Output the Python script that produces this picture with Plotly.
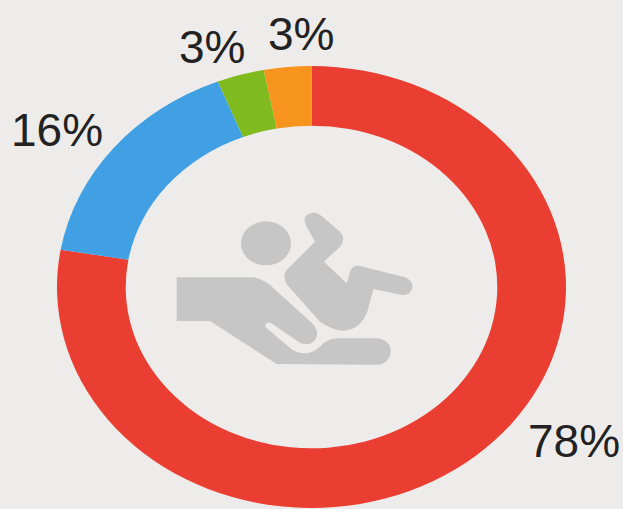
import plotly.graph_objects as go

labels = ["Red", "Blue", "Green", "Orange"]
values = [77.7, 16.3, 3, 3]
colors = ["#ea3e33", "#41a0e4", "#7fbb1e", "#f7941d"]
texts = ["78%", "16%", "3%", "3%"]
text_pos = [(574, 441), (57, 130), (212, 47), (301, 34)]

W, H = 623, 509
BG = "#eeecea"
ICON = "#c6c6c6"


def px(x, y):
    return f"{x / W:.5f} {1 - y / H:.5f}"


def zoom_pt(zx, zy):
    return px(160 + zx / 3, 190 + zy / 3)


def path(cmds):
    out = []
    for c in cmds:
        op, pts = c[0], c[1:]
        out.append(op + " ".join(zoom_pt(*p).replace(" ", ",") for p in pts))
    return " ".join(out) + " Z"


hand = path([
    ("M", (50, 262)), ("L", (280, 262)),
    ("Q", (305, 265), (330, 285)),
    ("L", (455, 398)),
    ("Q", (485, 430), (460, 455)),
    ("Q", (440, 470), (415, 455)),
    ("L", (332, 398)),
    ("Q", (318, 395), (315, 410)),
    ("L", (395, 478)),
    ("Q", (440, 505), (480, 470)),
    ("Q", (500, 447), (530, 445)),
    ("L", (650, 445)),
    ("Q", (692, 450), (692, 485)),
    ("Q", (688, 522), (650, 524)),
    ("L", (350, 522)),
    ("L", (150, 393)), ("L", (50, 393)),
])
baby = path([
    ("M", (380, 240)),
    ("L", (465, 155)),
    ("L", (440, 110)),
    ("Q", (425, 85), (445, 72)),
    ("Q", (465, 60), (485, 78)),
    ("L", (540, 125)),
    ("Q", (560, 145), (540, 170)),
    ("L", (492, 215)),
    ("L", (560, 280)),
    ("L", (570, 245)),
    ("Q", (578, 225), (600, 228)),
    ("L", (735, 262)),
    ("Q", (765, 275), (755, 300)),
    ("Q", (745, 320), (715, 313)),
    ("L", (640, 297)),
    ("L", (622, 365)),
    ("Q", (600, 420), (550, 422)),
    ("Q", (515, 420), (480, 395)),
    ("L", (382, 285)),
    ("Q", (365, 260), (380, 240)),
])

cx, cy = 318, 160
rx, ry = 75, 66
head_shape = dict(
    type="circle", xref="paper", yref="paper",
    x0=(160 + (cx - rx) / 3) / W, x1=(160 + (cx + rx) / 3) / W,
    y0=1 - (190 + (cy + ry) / 3) / H, y1=1 - (190 + (cy - ry) / 3) / H,
    fillcolor=ICON, line_width=0,
)

fig = go.Figure(go.Pie(
    labels=labels, values=values, hole=0.73, sort=False,
    direction="clockwise", rotation=0,
    marker=dict(colors=colors, line=dict(width=0)),
    textinfo="none", showlegend=False,
    domain=dict(x=[0, 1], y=[0, 1]),
))

annotations = [
    dict(text=t, x=p[0] / W, y=1 - p[1] / H, xref="paper", yref="paper",
         showarrow=False, xanchor="center", yanchor="middle",
         font=dict(family="Liberation Sans", size=46, color="#222222"))
    for t, p in zip(texts, text_pos)
]

fig.update_layout(
    width=W, height=H, margin=dict(l=0, r=0, t=0, b=0),
    paper_bgcolor=BG, plot_bgcolor=BG,
    annotations=annotations,
    shapes=[
        head_shape,
        dict(type="path", path=hand, xref="paper", yref="paper", fillcolor=ICON, line_width=0),
        dict(type="path", path=baby, xref="paper", yref="paper", fillcolor=ICON, line_width=0),
    ],
)

# The reference donut is vertically squashed; pie traces are always circular,
# so the pie layer is scaled after drawing.
post = """
var g = document.querySelector('.pielayer');
if (g) {
  var s = 221 / 254.5, cy = 287, c0 = 254.5;
  g.setAttribute('transform', 'translate(0,' + (cy - c0 * s) + ') scale(1,' + s + ')');
}
document.documentElement.style.margin = '0';
document.body.style.margin = '0';
"""
fig.write_html("out.html", post_script=post, config=dict(displayModeBar=False))
